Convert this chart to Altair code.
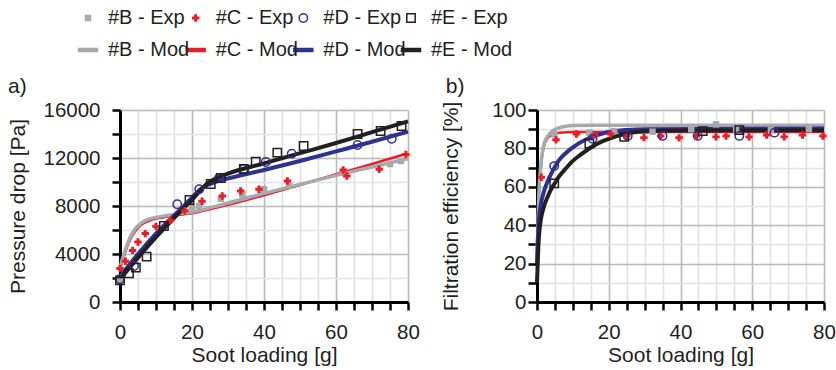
import altair as alt
import pandas as pd

SERIES = ["#B", "#C", "#D", "#E"]
COLORS = {"#B": "#a7a9ac", "#C": "#ed1c24", "#D": "#2e3192", "#E": "#231f20"}
X_TICKS = list(range(0, 81, 5))
PD_TICKS = list(range(0, 16001, 2000))
FE_TICKS = list(range(0, 101, 10))

# ---------------- a) Pressure drop : experiments ----------------
pd_B_exp_x = [0, 20, 22, 28, 34, 40, 47, 62, 75, 78]
pd_B_exp_y = [1700, 7900, 8000, 8600, 8950, 9400, 9700, 10750, 11500, 11750]
pd_C_exp_x = [0, 1.5, 3.5, 5, 7, 10, 14, 18, 22.8, 28.4, 33.5, 38.6, 46.5, 62, 63, 72, 79.4]
pd_C_exp_y = [2800, 3400, 4300, 5000, 5700, 6300, 6800, 7600, 8400, 8830, 9250, 9390, 10080, 11000, 10500, 11060, 12300]
pd_D_exp_x = [0, 3.9, 15.9, 22, 27.5, 34.4, 40.5, 47.7, 66, 75.5]
pd_D_exp_y = [1900, 3000, 8150, 9400, 10330, 11080, 11670, 12360, 13080, 13600]
pd_E_exp_x = [0, 2.5, 4.4, 7.4, 12.2, 19.3, 25.2, 28, 34.4, 37.7, 43.7, 51, 66, 72.4, 78.2]
pd_E_exp_y = [1800, 2400, 2860, 3780, 6330, 8500, 9830, 10330, 11080, 11700, 12450, 13000, 14000, 14250, 14670]

# ---------------- a) Pressure drop : model ----------------
pd_B_mod_x = [0, 1, 2, 3, 4, 5, 6, 8, 10, 12, 15, 20, 30, 40, 50, 60, 70, 80]
pd_B_mod_y = [2900, 3900, 4800, 5500, 6000, 6350, 6600, 6900, 7050, 7150, 7300, 7500, 8250, 9050, 9800, 10550, 11250, 11950]
pd_C_mod_x = [0, 1, 2, 3, 4, 5, 6, 8, 10, 12, 15, 20, 30, 40, 50, 60, 70, 80]
pd_C_mod_y = [2700, 3700, 4600, 5300, 5800, 6200, 6450, 6750, 6950, 7050, 7200, 7400, 8100, 8900, 9750, 10650, 11500, 12400]
pd_D_mod_x = [0, 5, 10, 15, 18, 20, 22, 24, 26, 30, 40, 50, 60, 70, 80]
pd_D_mod_y = [2100, 4000, 5700, 7200, 8100, 8700, 9300, 9700, 9950, 10300, 11000, 11750, 12550, 13350, 14200]
pd_E_mod_x = [0, 5, 10, 15, 18, 20, 22, 24, 26, 30, 40, 50, 60, 70, 80]
pd_E_mod_y = [1900, 3700, 5400, 7000, 7900, 8500, 9200, 9800, 10200, 10700, 11550, 12400, 13250, 14150, 15050]

# ---------------- b) Filtration efficiency : experiments ----------------
fe_B_exp_x = [4.8, 14.6, 21.5, 32.2, 43, 49.9, 55.5, 65.2, 75.8]
fe_B_exp_y = [87.3, 88.2, 89, 88.7, 90, 92.5, 90, 89.6, 90]
fe_C_exp_x = [1.2, 5.3, 11, 16, 20.5, 25, 29.8, 34.5, 39.6, 44.5, 49.9, 52.7, 59.1, 64, 68.9, 74, 79.7]
fe_C_exp_y = [65, 84.5, 87.5, 87, 87.5, 86.5, 85.6, 86.5, 85.5, 86.5, 86, 86.5, 86, 87, 86, 87, 86.5]
fe_D_exp_x = [4.8, 15.5, 25.3, 35, 44.8, 56.4, 66.2]
fe_D_exp_y = [70.8, 85, 86.5, 86.5, 86.5, 86.5, 88.2]
fe_E_exp_x = [4.8, 14.6, 24.3, 46.2, 56.4]
fe_E_exp_y = [61.8, 82.5, 86, 89, 89.5]

# ---------------- b) Filtration efficiency : model ----------------
fe_B_mod_x = [0, 0.5, 1, 1.5, 2, 3, 4, 5, 6, 8, 10, 15, 80]
fe_B_mod_y = [23, 55, 70, 78, 82.5, 86.5, 88.5, 89.8, 90.6, 91.5, 91.9, 92, 92]
fe_C_mod_x = [0, 0.5, 1, 1.5, 2, 3, 4, 5, 7, 10, 80]
fe_C_mod_y = [30, 55, 68, 77, 81.5, 85.5, 87, 87.8, 88.3, 88.5, 88.5]
fe_D_mod_x = [0, 0.5, 1, 2, 3, 4, 5, 6, 8, 10, 12, 15, 18, 20, 25, 30, 80]
fe_D_mod_y = [20, 42, 50, 58, 63, 67, 70.5, 73.5, 77.5, 80.5, 83, 85.8, 87.6, 88.5, 89.6, 90, 90.3]
fe_E_mod_x = [0, 0.5, 1, 2, 3, 4, 5, 6, 8, 10, 12, 15, 18, 20, 25, 30, 40, 80]
fe_E_mod_y = [10, 33, 42, 50, 55, 59, 62, 65, 69.5, 73.5, 76.5, 80.5, 83.5, 85, 87.8, 88.8, 89.3, 89.5]

FONT = "Liberation Sans"
TXT = "#231f20"
MAJOR = "#b9b9b9"
MINOR = "#e1e1e1"

MARK = {
    "#B": dict(shape="square", size=42, filled=True, strokeWidth=0),
    "#C": dict(shape="cross", size=55, filled=True, strokeWidth=0),
    "#D": dict(shape="circle", size=70, filled=False, strokeWidth=1.5),
    "#E": dict(shape="square", size=70, filled=False, strokeWidth=1.5),
}
LINE_W = {"#B": 3.5, "#C": 2.5, "#D": 4, "#E": 4}
LINE_ORDER = ["#C", "#B", "#D", "#E"]


def frame(xs, ys, s):
    return pd.DataFrame({"x": xs, "y": ys, "series": s})


def panel(exp, mod, ydom, yticks, ymajor, ytitle, tag, ylabpad, ytick, ytitlepad, w, tagdx):
    xenc = alt.X(
        "x:Q",
        scale=alt.Scale(domain=[0, 80], nice=False, zero=False),
        axis=alt.Axis(
            values=X_TICKS,
            labelExpr="datum.value % 20 === 0 ? datum.label : ''",
            title="Soot loading [g]",
            grid=True,
            gridColor={"condition": {"test": "datum.value % 20 === 0", "value": MAJOR}, "value": MINOR},
            gridWidth=1.6,
            domainColor="black", domainWidth=3,
            tickColor="black", tickWidth=2.5, tickSize=8,
            labelPadding=12, titlePadding=2,
            labelFontSize=20.5, titleFontSize=21,
            labelFont=FONT, titleFont=FONT,
            labelColor=TXT, titleColor=TXT, titleFontWeight="normal",
            labelOverlap=False, labelFlush=False,
        ),
    )
    yenc = alt.Y(
        "y:Q",
        scale=alt.Scale(domain=ydom, nice=False),
        axis=alt.Axis(
            values=yticks, format="d",
            labelExpr=f"datum.value % {ymajor} === 0 ? datum.label : ''",
            title=ytitle,
            grid=True,
            gridColor={"condition": {"test": f"datum.value % {ymajor} === 0", "value": MAJOR}, "value": MINOR},
            gridWidth=1.6,
            domainColor="black", domainWidth=3,
            tickColor="black", tickWidth=2.5, tickSize=ytick,
            labelPadding=ylabpad, titlePadding=ytitlepad,
            labelFontSize=20.5, titleFontSize=21,
            labelFont=FONT, titleFont=FONT,
            labelColor=TXT, titleColor=TXT, titleFontWeight="normal",
            labelOverlap=False, labelFlush=False,
        ),
    )
    layers = []
    for s in LINE_ORDER:
        layers.append(
            alt.Chart(mod[mod.series == s]).mark_line(
                color=COLORS[s], strokeWidth=LINE_W[s], interpolate="monotone"
            ).encode(x=xenc, y=yenc)
        )
    for s in SERIES:
        m = MARK[s]
        layers.append(
            alt.Chart(exp[exp.series == s]).mark_point(
                shape=m["shape"], size=m["size"], filled=m["filled"],
                strokeWidth=m["strokeWidth"], color=COLORS[s], opacity=1,
            ).encode(x=xenc, y=yenc)
        )
    return alt.layer(*layers).properties(
        width=w, height=192,
        title=alt.TitleParams(
            tag, anchor="start", frame="bounds", fontSize=21, font=FONT,
            fontWeight="normal", color=TXT, offset=3, dx=tagdx,
        ),
    )


pd_exp = pd.concat([
    frame(pd_B_exp_x, pd_B_exp_y, "#B"), frame(pd_C_exp_x, pd_C_exp_y, "#C"),
    frame(pd_D_exp_x, pd_D_exp_y, "#D"), frame(pd_E_exp_x, pd_E_exp_y, "#E"),
])
pd_mod = pd.concat([
    frame(pd_B_mod_x, pd_B_mod_y, "#B"), frame(pd_C_mod_x, pd_C_mod_y, "#C"),
    frame(pd_D_mod_x, pd_D_mod_y, "#D"), frame(pd_E_mod_x, pd_E_mod_y, "#E"),
])
fe_exp = pd.concat([
    frame(fe_B_exp_x, fe_B_exp_y, "#B"), frame(fe_C_exp_x, fe_C_exp_y, "#C"),
    frame(fe_D_exp_x, fe_D_exp_y, "#D"), frame(fe_E_exp_x, fe_E_exp_y, "#E"),
])
fe_mod = pd.concat([
    frame(fe_B_mod_x, fe_B_mod_y, "#B"), frame(fe_C_mod_x, fe_C_mod_y, "#C"),
    frame(fe_D_mod_x, fe_D_mod_y, "#D"), frame(fe_E_mod_x, fe_E_mod_y, "#E"),
])

pa = panel(pd_exp, pd_mod, [0, 16000], PD_TICKS, 4000, "Pressure drop [Pa]", "a)", 12, 8, 14, 288, 0)
pb = panel(fe_exp, fe_mod, [0, 100], FE_TICKS, 20, "Filtration efficiency [%]", "b)", 2, 9, 30, 287, 5)

# ---------------- legend ----------------
ROWS = ["Exp", "Mod"]
leg = pd.DataFrame([{"series": s, "row": r, "label": f"{s} - {r}"} for r in ROWS for s in SERIES])
lx = alt.X("series:N", scale=alt.Scale(domain=SERIES, range=[-32, 291], padding=0), axis=None)
ly = alt.Y("row:N", scale=alt.Scale(domain=ROWS, range=[18, 50], padding=0), axis=None)
leg_layers = []
for s in SERIES:
    m = MARK[s]
    leg_layers.append(
        alt.Chart(leg[(leg.series == s) & (leg.row == "Exp")]).mark_point(
            shape=m["shape"], size=m["size"], filled=m["filled"],
            strokeWidth=m["strokeWidth"], color=COLORS[s], opacity=1,
        ).encode(x=lx, y=ly)
    )
    leg_layers.append(
        alt.Chart(leg[(leg.series == s) & (leg.row == "Mod")]).mark_point(
            shape="stroke", size=420, strokeWidth=4.5, color=COLORS[s], opacity=1,
        ).encode(x=lx, y=ly)
    )
leg_layers.append(
    alt.Chart(leg).mark_text(
        align="left", baseline="middle", dx=20, fontSize=20, font=FONT, color=TXT
    ).encode(x=lx, y=ly, text="label:N")
)
legend = alt.layer(*leg_layers).properties(width=420, height=62)

chart = alt.vconcat(
    legend,
    alt.hconcat(pa, pb, spacing=20),
    spacing=14,
).properties(
    padding={"left": 7, "top": 0, "right": 0, "bottom": 0},
).configure_view(stroke=None)

chart.save("out.html", embed_options={"renderer": "svg", "actions": False})
